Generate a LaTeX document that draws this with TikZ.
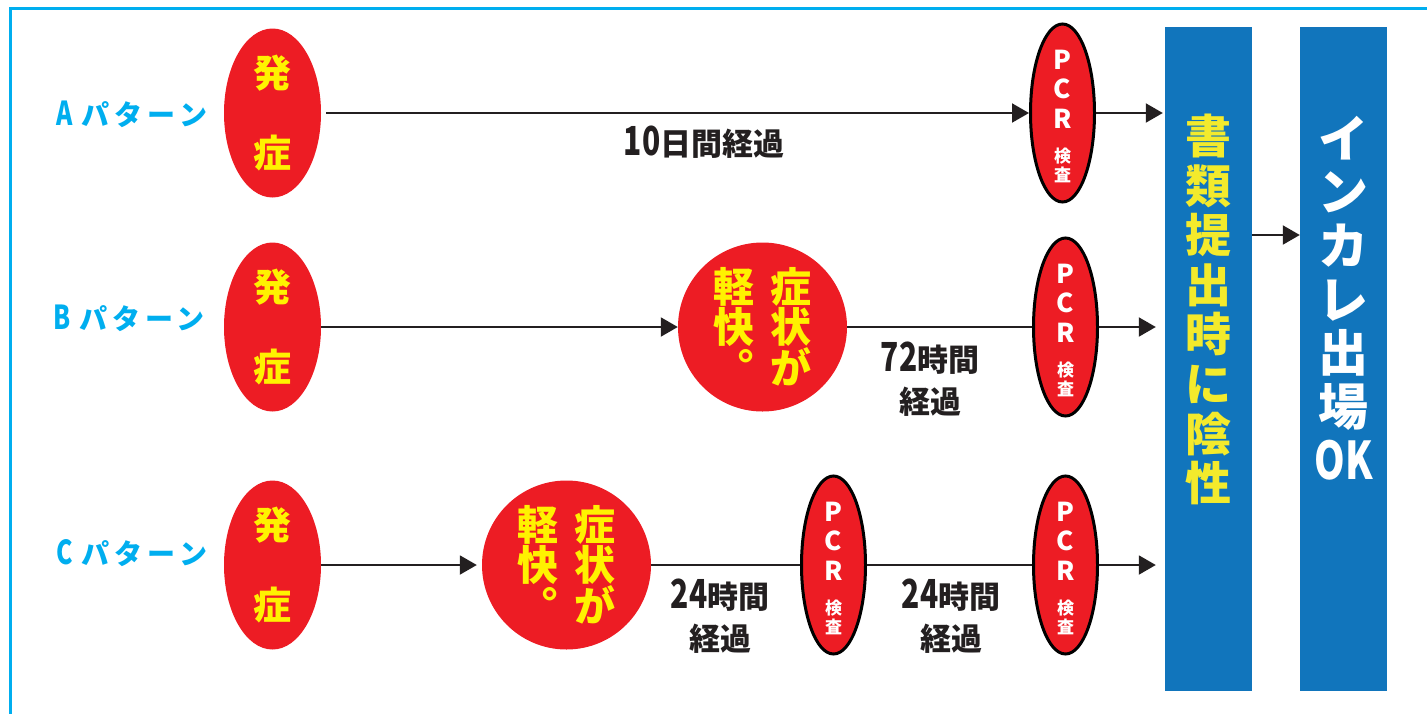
\documentclass[tikz,border=0pt]{standalone}
\usepackage{fontspec}
\usetikzlibrary{shapes.geometric,arrows.meta}
\newfontfamily\jp{Noto Sans CJK JP}
\newfontfamily\jpvert{Noto Sans CJK JP}[RawFeature=+vert]
\newfontfamily\jpwide{Noto Sans CJK JP}[LetterSpace=18]
\newfontfamily\jpnarrow{Noto Sans CJK JP}[FakeStretch=0.75]
\newcommand\smallkanji{\jp\bfseries\fontsize{17}{19}\selectfont}
\newcommand\digitsfont{\jpnarrow\bfseries\fontsize{40}{42}\selectfont}
\newcommand\letterfont{\jpnarrow\bfseries\fontsize{33}{33}\selectfont}
\definecolor{onsetred}{HTML}{ED1C24}
\definecolor{onsetyellow}{HTML}{FFF200}
\definecolor{inkgray}{HTML}{231F20}
\definecolor{patterncyan}{HTML}{00AEEF}
\definecolor{panelblue}{HTML}{1175BC}
\definecolor{docyellow}{HTML}{F3EA2C}

\begin{document}
\begin{tikzpicture}[x=1pt, y=-1pt,
  onset/.style={ellipse, fill=onsetred, inner sep=0pt, minimum width=97pt, minimum height=169pt,
    text=onsetyellow, align=center, font=\jp\bfseries\fontsize{38}{80}\selectfont},
  relief/.style={circle, fill=onsetred, inner sep=0pt, minimum size=169pt,
    text=onsetyellow, align=center, font=\jp\bfseries\fontsize{41}{40}\selectfont},
  pcr/.style={ellipse, draw=black, line width=3pt, fill=onsetred, inner sep=0pt,
    minimum width=64pt, minimum height=178pt},
  pcrtext/.style={text=white, align=center, inner sep=0pt, font=\jp\bfseries\fontsize{26}{29.5}\selectfont},
  panel/.style={fill=panelblue, inner sep=0pt, minimum width=87pt, minimum height=664pt},
  paneltext/.style={align=center, inner sep=0pt},
  patlabel/.style={text=patterncyan, inner sep=0pt, font=\jpwide\bfseries\fontsize{28}{28}\selectfont},
  elapsed/.style={text=inkgray, align=center, inner sep=0pt, font=\jp\bfseries\fontsize{31}{42}\selectfont},
  flow/.style={draw=inkgray, line width=2pt, -{Triangle[length=17pt,width=19pt]}},
  link/.style={draw=inkgray, line width=2pt}]
\useasboundingbox (0,0) rectangle (1427,713);
\clip (0,0) rectangle (1427,713);
\draw[patterncyan, line width=3pt] (10,8.5) rectangle (1460,740);

% row labels
\node[patlabel] (labA) at (132,114) {{\letterfont A}\hspace{9pt}パターン};
\node[patlabel] (labB) at (129,318) {{\letterfont B}\hspace{9pt}パターン};
\node[patlabel] (labC) at (132,553) {{\letterfont C}\hspace{9pt}パターン};

% onset
\node[onset] (onsetA) at (272.5,113) {発\\症};
\node[onset] (onsetB) at (272.5,327) {発\\症};
\node[onset] (onsetC) at (272.5,565) {発\\症};

% symptoms eased
\node[relief] (reliefB) at (762.5,327) {軽\hspace{16pt}症\\快\hspace{16pt}状\\{\jpvert 。}\hspace{16pt}が};
\node[relief] (reliefC) at (566.5,565) {軽\hspace{16pt}症\\快\hspace{16pt}状\\{\jpvert 。}\hspace{16pt}が};

% PCR tests
\foreach \name/\pos in {pcrA/{1062.5,113}, pcrB/{1065.5,327}, pcrCa/{833.5,565}, pcrCb/{1065.5,565}} {
  \node[pcr] (\name) at (\pos) {};
  \node[pcrtext] (\name text) at ([yshift=-3pt]\name.center) {P\\C\\R\\[4.5pt]{\smallkanji 検}\\[-10.5pt]{\smallkanji 査}};
}

% panels
\node[panel] (docs) at (1208.5,359) {};
\node[panel] (entry) at (1343.5,359) {};
\node[paneltext, text=docyellow, font=\jp\bfseries\fontsize{46}{49.6}\selectfont] (docsText) at (1208.5,309.5)
  {書\\類\\提\\出\\時\\に\\陰\\性};
\node[paneltext, text=white, font=\jp\bfseries\fontsize{50}{53.7}\selectfont] (entryText) at (1343.5,298)
  {イ\\ン\\カ\\レ\\出\\場\\{\jpnarrow\bfseries\fontsize{52}{53.7}\selectfont OK}};

% elapsed times
\node[elapsed] (tenDays) at (704,142.5) {{\digitsfont 10}日間経過};
\node[elapsed] (waitB) at (930,379) {{\digitsfont 72}時間\\経過};
\node[elapsed] (waitCa) at (720,616) {{\digitsfont 24}時間\\経過};
\node[elapsed] (waitCb) at (951,616) {{\digitsfont 24}時間\\経過};

% connectors
\draw[flow, shorten <=5pt] (onsetA) -- (pcrA);
\draw[flow, shorten >=2pt] (pcrA) -- (pcrA -| docs.west);
\draw[flow] (onsetB) -- (reliefB);
\draw[link] (reliefB) -- (pcrB);
\draw[flow, shorten >=9pt] (pcrB) -- (pcrB -| docs.west);
\draw[flow, shorten >=5pt] (onsetC) -- (reliefC);
\draw[link] (reliefC) -- (pcrCa);
\draw[link] (pcrCa) -- (pcrCb);
\draw[flow, shorten >=9pt] (pcrCb) -- (pcrCb -| docs.west);
\draw[flow] ([yshift=124pt]docs.east) -- ([yshift=124pt]entry.west);
\end{tikzpicture}
\end{document}
